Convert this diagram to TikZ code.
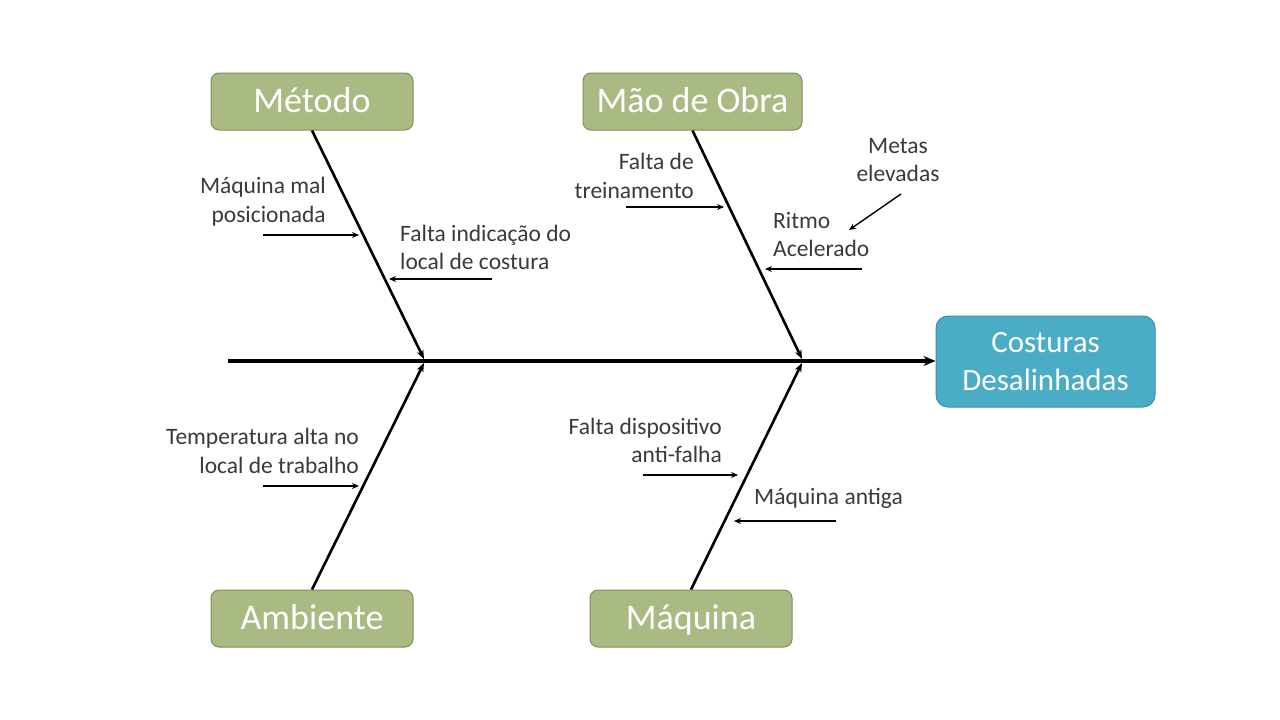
\documentclass[tikz,border=0pt]{standalone}
\usepackage{fontspec}
\setmainfont{Carlito}
\usetikzlibrary{arrows.meta}
\definecolor{olive}{HTML}{A9BA82}
\definecolor{oliveborder}{HTML}{7E8F5B}
\definecolor{teal}{HTML}{4BACC6}
\definecolor{tealborder}{HTML}{3C8EA6}
\definecolor{txt}{HTML}{3A3A3A}
\tikzset{
  catbox/.style={draw=oliveborder, line width=1pt, fill=olive, rounded corners=8pt,
    minimum width=202pt, minimum height=57pt, inner sep=0pt, text=white,
    text height=26pt, text depth=4pt,
    font=\fontsize{36}{40}\selectfont},
  effbox/.style={draw=tealborder, line width=1pt, fill=teal, rounded corners=12pt,
    minimum width=219pt, minimum height=91pt, inner sep=0pt, text=white, align=center,
    font=\fontsize{31}{38}\selectfont},
  lbl/.style={text=txt, inner sep=0pt, font=\fontsize{23.5}{28.5}\selectfont},
  bone/.style={line width=2.6pt, -{Stealth[length=9pt,width=7pt]}},
  spine/.style={line width=3.2pt, -{Stealth[length=12pt,width=10pt]}},
  cause/.style={line width=1.4pt, -{Stealth[length=7pt,width=6pt]}}
}
\begin{document}
\begin{tikzpicture}[x=1pt,y=-1pt]
\useasboundingbox[fill=white] (0,0) rectangle (1280,720);
% boxes
\node[catbox] (metodo) at (312,101.5) {Método};
\node[catbox, minimum width=219pt] (mao) at (692.5,101.5) {Mão de Obra};
\node[catbox] (ambiente) at (312,618.5) {Ambiente};
\node[catbox] (maquina) at (691,618.5) {Máquina};
\node[effbox] (efeito) at (1045.5,361.5) {Costuras\\Desalinhadas};
% spine
\coordinate (tail) at (228,361);
\draw[spine] (tail) -- (efeito.west |- tail);
% bone ends
\coordinate (j1) at (424,359);
\coordinate (j2) at (802,359);
\coordinate (j3) at (424,363);
\coordinate (j4) at (802,363);
\draw[bone] (metodo.south) -- (j1);
\draw[bone] (mao.south) -- (j2);
\draw[bone] (ambiente.north) -- (j3);
\draw[bone] (maquina.north) -- (j4);
% labels
\node[lbl, align=right, anchor=east] (l1) at (326,201.5) {Máquina mal\\posicionada};
\node[lbl, align=left, anchor=west] (l2) at (400,247.5) {Falta indicação do\\local de costura};
\node[lbl, align=right, anchor=east] (l3) at (694,176) {Falta de\\treinamento};
\node[lbl, align=left, anchor=west] (l4) at (773,234.5) {Ritmo\\Acelerado};
\node[lbl, align=center] (l5) at (898,160) {Metas\\elevadas};
\node[lbl, align=right, anchor=east] (l6) at (359,451) {Temperatura alta no\\local de trabalho};
\node[lbl, align=right, anchor=east] (l7) at (722,440.5) {Falta dispositivo\\anti-falha};
\node[lbl, anchor=west] (l8) at (754,498) {Máquina antiga};
% cause arrows
\coordinate (s1) at (263,235); \coordinate (e1) at (359,235);
\coordinate (s2) at (492,279); \coordinate (e2) at (389,279);
\coordinate (s3) at (626,207); \coordinate (e3) at (724,207);
\coordinate (s4) at (862,269); \coordinate (e4) at (765,269);
\coordinate (s5) at (901,194); \coordinate (e5) at (849,230);
\coordinate (s6) at (263,486); \coordinate (e6) at (359,486);
\coordinate (s7) at (643,475); \coordinate (e7) at (738,475);
\coordinate (s8) at (836,521); \coordinate (e8) at (734,521);
\foreach \i in {1,...,8} {\draw[cause] (s\i) -- (e\i);}
\end{tikzpicture}
\end{document}
